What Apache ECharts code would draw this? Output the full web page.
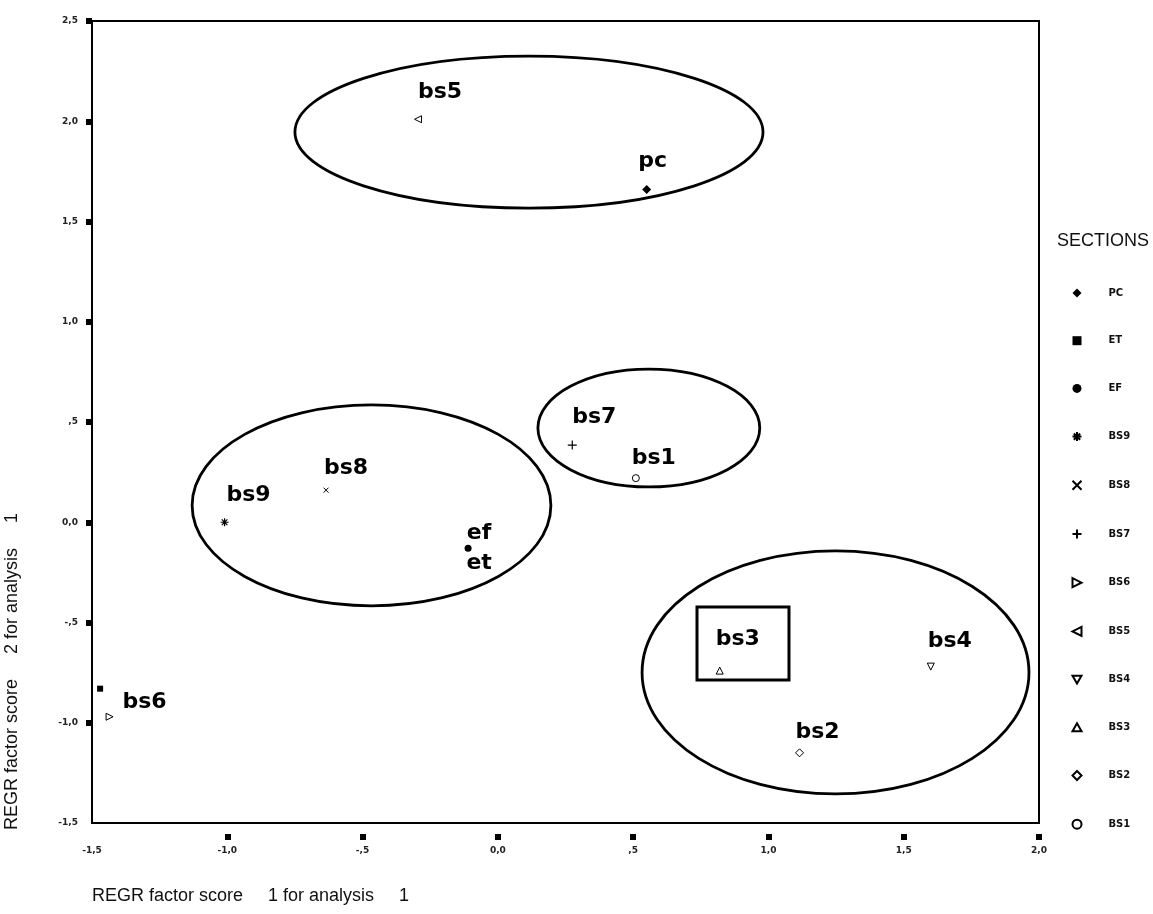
<!DOCTYPE html>
<html>
<head>
<meta charset="utf-8">
<script src="https://cdn.jsdelivr.net/npm/echarts@6/dist/echarts.min.js"></script>
<style>
html,body{margin:0;padding:0;background:#fff;}
#chart{width:1153px;height:914px;}
</style>
</head>
<body>
<div id="chart"></div>
<script>
// ---- data ----
const seriesNames = ['PC','ET','EF','BS9','BS8','BS7','BS6','BS5','BS4','BS3','BS2','BS1'];
const xValues = [0.55, -1.47, -0.11, -1.01, -0.635, 0.275, -1.435, -0.295, 1.60, 0.82, 1.115, 0.51];
const yValues = [1.66, -0.83, -0.13, 0.00, 0.16, 0.385, -0.97, 2.01, -0.72, -0.74, -1.15, 0.22];
const pointLabels = ['pc', '', 'ef\net', 'bs9', 'bs8', 'bs7', 'bs6', 'bs5', 'bs4', 'bs3', 'bs2', 'bs1'];
// cluster ellipses: [centerX, centerY, radiusX, radiusY]
const clusterEllipses = [
  [0.115, 1.946, 0.865, 0.379],
  [-0.467, 0.084, 0.663, 0.501],
  [0.558, 0.47, 0.41, 0.294],
  [1.248, -0.749, 0.715, 0.606]
];
// highlight box: [x0, y0, x1, y1]
const highlightBox = [[0.736, -0.423, 1.076, -0.787]];
const xTickValues = [-1.5, -1.0, -0.5, 0.0, 0.5, 1.0, 1.5, 2.0];
const xTickLabels = ['-1,5', '-1,0', '-,5', '0,0', ',5', '1,0', '1,5', '2,0'];
const yTickValues = [-1.5, -1.0, -0.5, 0.0, 0.5, 1.0, 1.5, 2.0, 2.5];
const yTickLabels = ['-1,5', '-1,0', '-,5', '0,0', ',5', '1,0', '1,5', '2,0', '2,5'];
const xTitle = 'REGR factor score     1 for analysis     1';
const yTitle = 'REGR factor score     2 for analysis     1';
const legendTitle = 'SECTIONS';

// ---- styles ----
const symbolStyles = {
  PC:  {symbol: 'diamond', size: 9, fill: '#000', stroke: null},
  ET:  {symbol: 'rect', size: 6, fill: '#000', stroke: null},
  EF:  {symbol: 'circle', size: 7, fill: '#000', stroke: null},
  BS9: {symbol: 'path://M4,0L4,8M0,4L8,4M1.2,1.2L6.8,6.8M6.8,1.2L1.2,6.8', size: 8, fill: 'transparent', stroke: 1.2},
  BS8: {symbol: 'path://M0,0L8,8M8,0L0,8', size: 5, fill: 'transparent', stroke: 1},
  BS7: {symbol: 'path://M4,0L4,8M0,4L8,4', size: 9, fill: 'transparent', stroke: 1.2},
  BS6: {symbol: 'path://M0,0L8,4L0,8Z', size: 7, fill: '#fff', stroke: 1},
  BS5: {symbol: 'path://M8,0L0,4L8,8Z', size: 7, fill: '#fff', stroke: 1},
  BS4: {symbol: 'path://M0,0L8,0L4,7Z', size: 7, fill: '#fff', stroke: 1},
  BS3: {symbol: 'path://M4,0L8,7L0,7Z', size: 7, fill: '#fff', stroke: 1},
  BS2: {symbol: 'diamond', size: 8, fill: '#fff', stroke: 1},
  BS1: {symbol: 'circle', size: 7, fill: '#fff', stroke: 1}
};
const labelOffsets = {
  PC: [6, -28], ET: [0, 0], EF: [11, 0], BS9: [24, -27], BS8: [20, -22], BS7: [22, -28],
  BS6: [35, -14], BS5: [22, -27], BS4: [19, -25], BS3: [18, -31], BS2: [18, -21], BS1: [18, -20]
};

function fmt(values, labels) {
  return function (v) {
    for (let i = 0; i < values.length; i++) if (Math.abs(values[i] - v) < 1e-6) return labels[i];
    return '';
  };
}

const chart = echarts.init(document.getElementById('chart'), null, {renderer: 'canvas'});

const scatterSeries = seriesNames.map(function (name, i) {
  const s = symbolStyles[name];
  return {
    name: name,
    type: 'scatter',
    xAxisIndex: 0,
    yAxisIndex: 0,
    symbol: s.symbol,
    symbolSize: s.size,
    z: 5,
    itemStyle: {
      color: s.fill,
      borderColor: '#000',
      borderWidth: s.stroke || 0,
      opacity: 1
    },
    label: {
      show: pointLabels[i] !== '',
      position: 'inside',
      offset: labelOffsets[name],
      formatter: pointLabels[i],
      color: '#000',
      fontFamily: 'DejaVu Sans',
      fontWeight: 'bold',
      fontSize: 22,
      lineHeight: 30
    },
    emphasis: {disabled: true},
    data: [[xValues[i], yValues[i]]]
  };
});

const ellipseSeries = {
  type: 'custom',
  name: 'clusters',
  silent: true,
  z: 2,
  xAxisIndex: 0,
  yAxisIndex: 0,
  renderItem: function (params, api) {
    const c = api.coord([api.value(0), api.value(1)]);
    const sz = api.size([api.value(2), api.value(3)]);
    return {
      type: 'ellipse',
      shape: {cx: c[0], cy: c[1], rx: sz[0], ry: sz[1]},
      style: {fill: 'none', stroke: '#000', lineWidth: 2.8}
    };
  },
  data: clusterEllipses
};

const boxSeries = {
  type: 'custom',
  name: 'box',
  silent: true,
  z: 2,
  xAxisIndex: 0,
  yAxisIndex: 0,
  encode: {x: [0, 2], y: [1, 3]},
  renderItem: function (params, api) {
    const p0 = api.coord([api.value(0), api.value(1)]);
    const p1 = api.coord([api.value(2), api.value(3)]);
    return {
      type: 'rect',
      shape: {x: Math.min(p0[0], p1[0]), y: Math.min(p0[1], p1[1]), width: Math.abs(p1[0] - p0[0]), height: Math.abs(p1[1] - p0[1])},
      style: {fill: 'none', stroke: '#000', lineWidth: 3}
    };
  },
  data: highlightBox
};

const tickLabelStyle = {color: '#222', fontFamily: 'DejaVu Sans', fontWeight: 'bold', fontSize: 9};

chart.setOption({
  animation: false,
  backgroundColor: '#fff',
  grid: {left: 92, right: 114, top: 21, bottom: 91, show: true, borderColor: '#000', borderWidth: 2, backgroundColor: 'transparent'},
  xAxis: [
    {
      type: 'value', min: -1.5, max: 2, interval: 0.5, position: 'bottom',
      axisLine: {show: true, onZero: false, lineStyle: {color: '#000', width: 2}},
      axisTick: {show: false}, axisLabel: {show: false}, splitLine: {show: false}
    },
    {
      type: 'value', min: -1.5, max: 2, interval: 0.5, position: 'bottom', offset: 11,
      axisLine: {show: false, onZero: false},
      axisTick: {show: true, customValues: xTickValues.slice(1), length: 6, lineStyle: {color: '#000', width: 6}},
      axisLabel: Object.assign({show: true, margin: 12, customValues: xTickValues, formatter: fmt(xTickValues, xTickLabels)}, tickLabelStyle),
      splitLine: {show: false}
    }
  ],
  yAxis: [{
    type: 'value', min: -1.5, max: 2.5, interval: 0.5,
    axisLine: {show: true, onZero: false, lineStyle: {color: '#000', width: 2}},
    axisTick: {show: true, customValues: yTickValues.slice(1), length: 6, lineStyle: {color: '#000', width: 6}},
    axisLabel: Object.assign({show: true, margin: 14, customValues: yTickValues, formatter: fmt(yTickValues, yTickLabels)}, tickLabelStyle),
    splitLine: {show: false}
  }],
  legend: {
    data: seriesNames,
    orient: 'vertical',
    left: 1066.5,
    top: 283,
    itemWidth: 9,
    itemHeight: 9,
    itemGap: 37.7,
    selectedMode: false,
    textStyle: {color: '#111', fontFamily: 'DejaVu Sans', fontWeight: 'bold', fontSize: 10, lineHeight: 9, padding: [0, 0, 0, 22]}
  },
  graphic: [
    {type: 'text', left: 1057, top: 232, style: {text: legendTitle, fill: '#111', font: '18px "Liberation Sans"'}},
    {type: 'text', x: 92, y: 896, style: {text: xTitle, fill: '#111', font: '18px "Liberation Sans"', textAlign: 'left', textVerticalAlign: 'middle'}},
    {type: 'text', x: 12, y: 830, rotation: Math.PI / 2, style: {text: yTitle, fill: '#111', font: '18px "Liberation Sans"', textAlign: 'left', textVerticalAlign: 'middle'}}
  ],
  series: [ellipseSeries, boxSeries].concat(scatterSeries)
});
</script>
</body>
</html>
